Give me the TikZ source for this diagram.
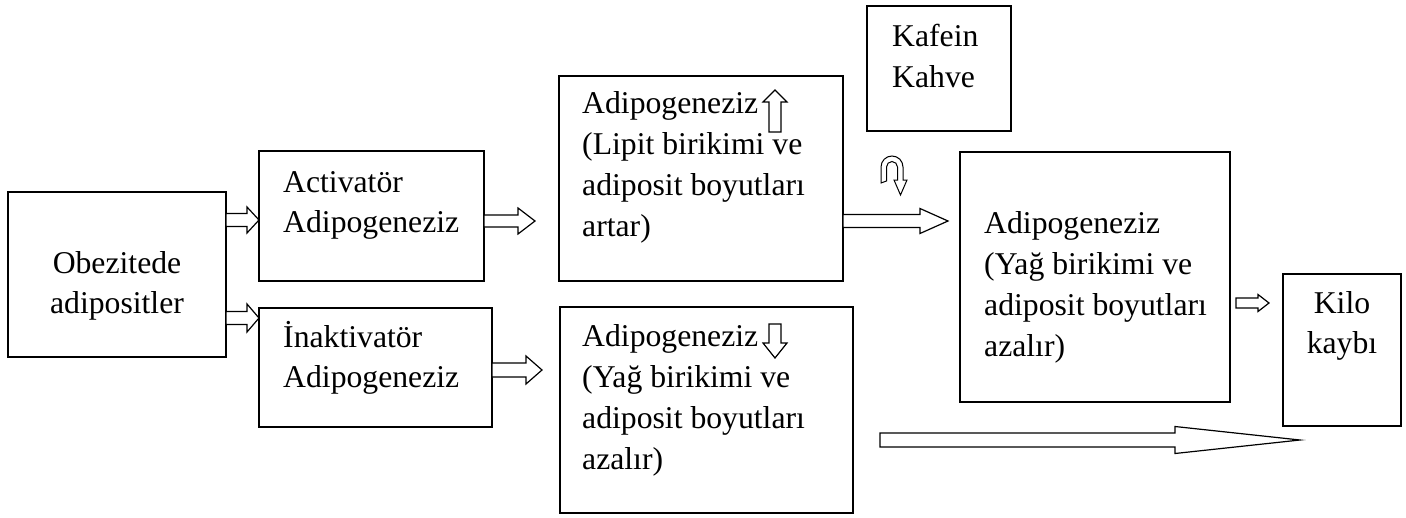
\documentclass[tikz,border=0pt]{standalone}
\usepackage{fontspec}
\setmainfont{Liberation Serif}
\usetikzlibrary{calc}
\tikzset{
  box/.style={draw, line width=1.5pt, inner sep=0pt, outer sep=0pt, anchor=north west},
  txt/.style={inner sep=0pt, anchor=base west, font=\fontsize{31.7}{40}\selectfont},
  ctxt/.style={inner sep=0pt, anchor=base, font=\fontsize{31.7}{40}\selectfont},
  barrow/.style={draw, line width=1.2pt, fill=white, line join=miter},
}
% horizontal block arrow: #1 tail, #2 tip, #3 shaft half, #4 head half, #5 head length
\newcommand{\hbarrow}[5]{%
  \draw[barrow] let \p1=#1, \p2=#2 in
    (\x1,\y1+#3pt) -- (\x2-#5pt,\y1+#3pt) -- (\x2-#5pt,\y1+#4pt) -- (\x2,\y1)
    -- (\x2-#5pt,\y1-#4pt) -- (\x2-#5pt,\y1-#3pt) -- (\x1,\y1-#3pt) -- cycle;}
\begin{document}
\begin{tikzpicture}[x=1pt,y=-1pt]
\useasboundingbox (0,0) rectangle (1406,517);

% boxes
\node[box, minimum width=218pt, minimum height=165pt] (obez) at (8,192) {};
\node[box, minimum width=225pt, minimum height=130pt] (act) at (259,151) {};
\node[box, minimum width=233pt, minimum height=119pt] (inakt) at (259,308) {};
\node[box, minimum width=284pt, minimum height=205pt] (adup) at (559,76) {};
\node[box, minimum width=293pt, minimum height=206pt] (addown) at (560,307) {};
\node[box, minimum width=144pt, minimum height=125pt] (kafein) at (867,6) {};
\node[box, minimum width=270pt, minimum height=250pt] (adright) at (960,152) {};
\node[box, minimum width=118pt, minimum height=152pt] (kilo) at (1283,274) {};

% texts
\node[ctxt] (ob1) at (117,273) {Obezitede};
\node[ctxt] (ob2) at (117,313) {adipositler};

\node[txt] (ac1) at (283,192) {Activatör};
\node[txt] (ac2) at (283,232) {Adipogeneziz};

\node[txt] (in1) at (283,347) {İnaktivatör};
\node[txt] (in2) at (283,387) {Adipogeneziz};

\node[txt] (au1) at (582,113) {Adipogeneziz};
\node[txt] (au2) at (582,154) {(Lipit birikimi ve};
\node[txt] (au3) at (582,195) {adiposit boyutları};
\node[txt] (au4) at (582,236) {artar)};

\node[txt] (ad1) at (582,346) {Adipogeneziz};
\node[txt] (ad2) at (582,387) {(Yağ birikimi ve};
\node[txt] (ad3) at (582,428) {adiposit boyutları};
\node[txt] (ad4) at (582,469) {azalır)};

\node[txt] (kf1) at (892,46) {Kafein};
\node[txt] (kf2) at (892,87) {Kahve};

\node[txt] (ar1) at (984,233) {Adipogeneziz};
\node[txt] (ar2) at (984,274) {(Yağ birikimi ve};
\node[txt] (ar3) at (984,315) {adiposit boyutları};
\node[txt] (ar4) at (984,356) {azalır)};

\node[ctxt] (ki1) at (1342,313) {Kilo};
\node[ctxt] (ki2) at (1342,353) {kaybı};

% connector coordinates
\coordinate (y1) at (0,220);
\coordinate (y2) at (0,318);
\coordinate (tip3) at (535,221);
\coordinate (tip4) at (542,370);
\coordinate (tip5) at (948,221);
\coordinate (tail6) at (1236,303);
\coordinate (tip6) at (1269,303);
\coordinate (bigS) at (880,440);
\coordinate (bigE) at (1300,440);

% block arrows
\hbarrow{(obez.east |- y1)}{(act.west |- y1)}{6.5}{13}{12}
\hbarrow{(obez.east |- y2)}{(inakt.west |- y2)}{6.5}{14}{12}
\hbarrow{(act.east |- tip3)}{(tip3)}{6}{13}{17}
\hbarrow{(inakt.east |- tip4)}{(tip4)}{7}{14}{16}
\hbarrow{(adup.east |- tip5)}{(tip5)}{6.5}{12.5}{28}
\hbarrow{(tail6)}{(tip6)}{5}{8.5}{11}
\hbarrow{(bigS)}{(bigE)}{7}{13.5}{125}

% small up arrow
\coordinate (upT) at (775,132);
\coordinate (upH) at (775,90);
\draw[barrow] let \p1=(upT), \p2=(upH) in
  (\x1-6pt,\y1) -- (\x1-6pt,\y2-12pt) -- (\x1-12pt,\y2-12pt) -- (\x2,\y2)
  -- (\x1+12pt,\y2-12pt) -- (\x1+6pt,\y2-12pt) -- (\x1+6pt,\y1) -- cycle;

% small down arrow
\coordinate (dnT) at (775,324);
\coordinate (dnH) at (775,358);
\draw[barrow] let \p1=(dnT), \p2=(dnH) in
  (\x1-6pt,\y1) -- (\x1-6pt,\y2+15pt) -- (\x1-12pt,\y2+15pt) -- (\x2,\y2)
  -- (\x1+12pt,\y2+15pt) -- (\x1+6pt,\y2+15pt) -- (\x1+6pt,\y1) -- cycle;

% curved arrow (Kafein effect)
\draw[barrow, line width=1pt]
  (881,183) -- (881,167)
  .. controls (881,160.9) and (885.9,156) .. (892,156)
  .. controls (898.1,156) and (903,160.9) .. (903,167)
  -- (903,180) -- (907,180) -- (900.5,195) -- (894,180) -- (897.5,180)
  -- (897.5,167)
  .. controls (897.5,164) and (895,161.5) .. (892,161.5)
  .. controls (889,161.5) and (886.5,164) .. (886.5,167)
  -- (886.5,181) -- cycle;
\end{tikzpicture}
\end{document}
